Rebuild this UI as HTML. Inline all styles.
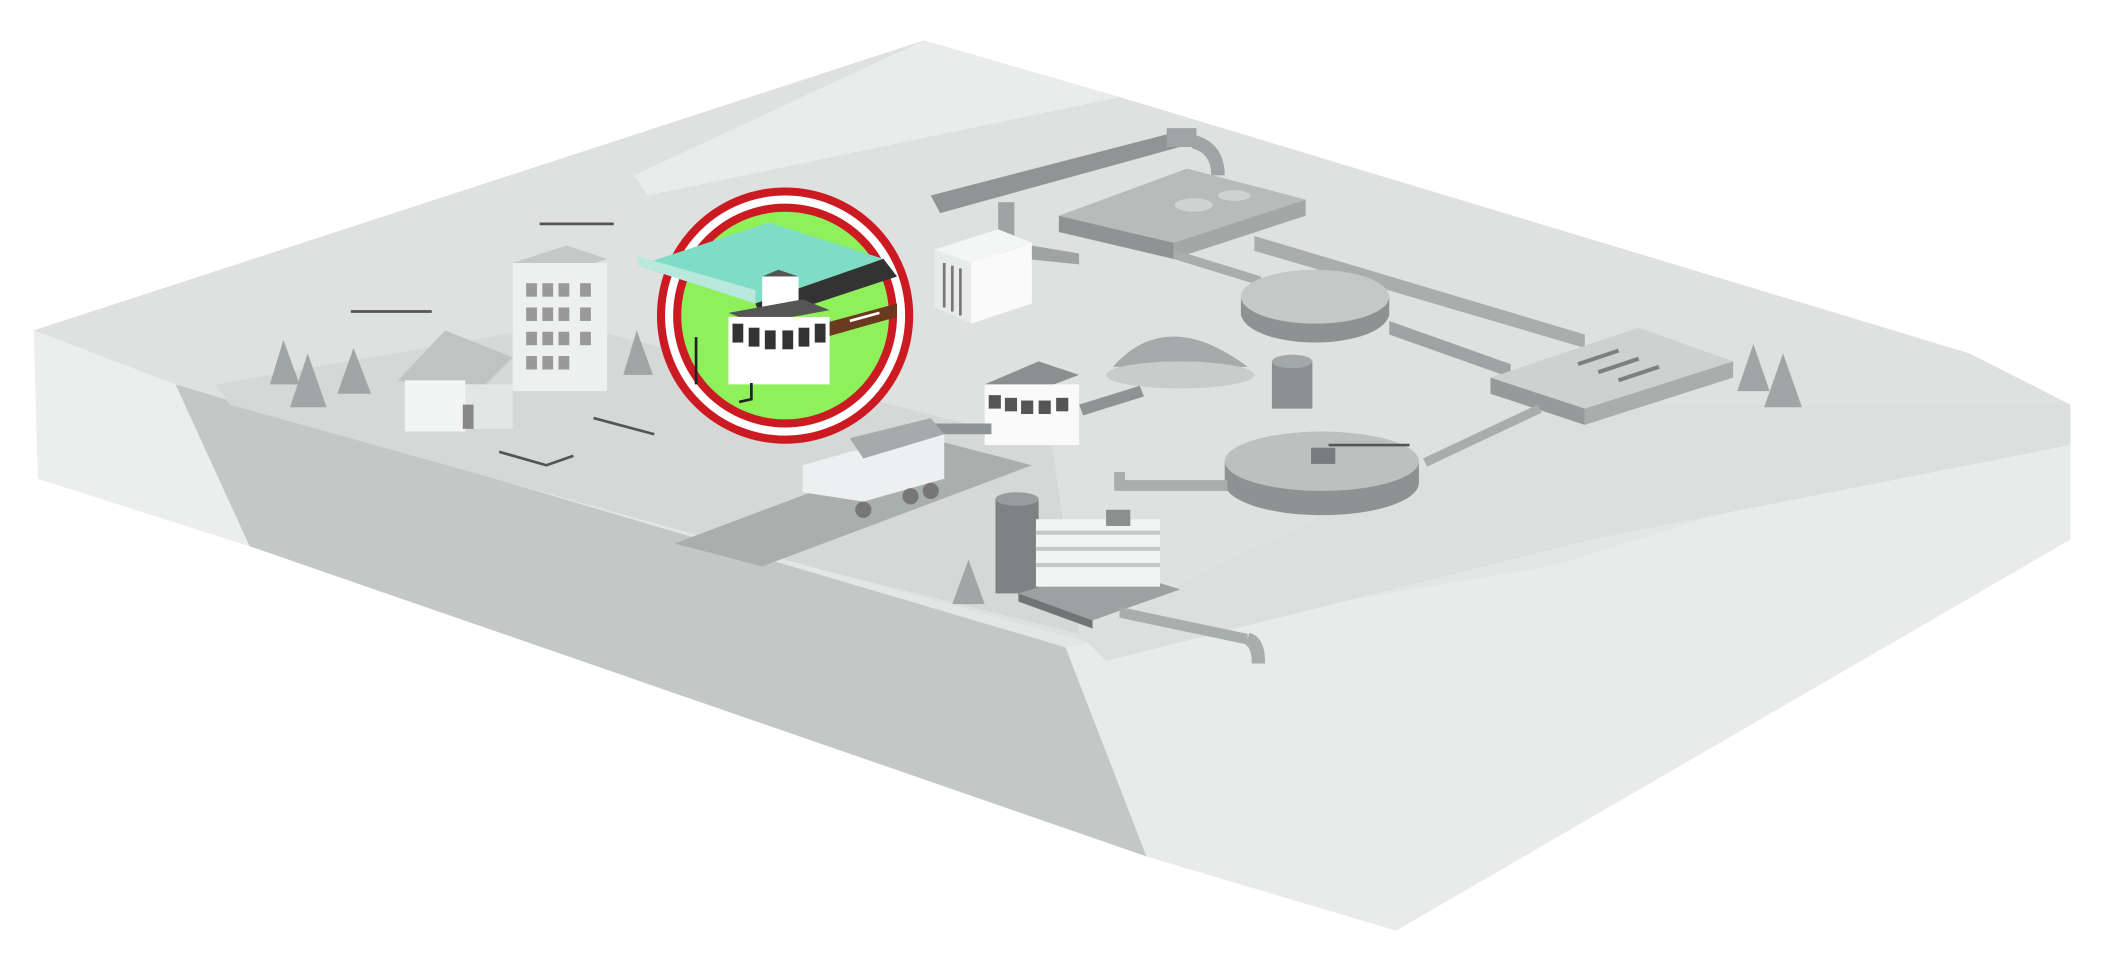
<!DOCTYPE html>
<html><head><meta charset="utf-8"><style>html,body{margin:0;padding:0;background:#fff}svg{display:block}</style></head><body>
<svg width="2115" height="971" viewBox="0 0 1568 720" xmlns="http://www.w3.org/2000/svg">
<!-- base -->
<polygon points="25,245 685,30 830,72 1460,262 1535,300 1535,400 1035,690 850,635 185,405 28,355" fill="#e4e6e5"/>
<polygon points="25,245 685,30 830,72 1460,262 1535,300 1150,360 820,480 600,420 130,285" fill="#dfe1e0"/>
<polygon points="25,245 130,285 185,405 28,355" fill="#eceeed"/>
<!-- front wall -->
<polygon points="130,285 790,480 850,635 185,405" fill="#c3c7c6"/>
<!-- right lower face -->
<polygon points="790,480 1150,420 1535,300 1535,400 1035,690 850,635" fill="#e9ebea"/>
<polygon points="1150,300 1535,300 1535,330 1180,400 820,490 800,470" fill="#dcdfde"/>
<!-- pit floor -->
<polygon points="160,285 420,240 780,330 800,470 600,420 170,300" fill="#d4d8d7"/>
<!-- road -->
<polygon points="500,403 700,328 765,345 565,420" fill="#a9afad"/>
<!-- top lighter bands -->
<polygon points="470,130 685,30 830,72 480,145" fill="#eaeceb"/>
<!-- pipes top -->
<polygon points="690,145 875,97 882,107 697,158" fill="#8f9594"/>
<rect x="865" y="95" width="22" height="14" fill="#9fa5a4"/>
<path d="M885,105 q18,5 18,25" stroke="#9fa5a4" stroke-width="10" fill="none"/>
<polygon points="785,160 880,125 968,148 870,180" fill="#b7bcbb"/>
<polygon points="785,160 870,180 870,192 785,172" fill="#8e9493"/>
<polygon points="870,180 968,148 968,160 870,192" fill="#a3a8a7"/>
<ellipse cx="885" cy="152" rx="14" ry="5" fill="#cfd3d2"/>
<ellipse cx="915" cy="145" rx="12" ry="4" fill="#cfd3d2"/>
<!-- conduit down to screen -->
<polygon points="740,150 752,150 752,180 800,188 800,196 740,190" fill="#9ea4a3"/>
<!-- screen building -->
<polygon points="693,185 740,170 765,180 720,195" fill="#f4f5f5"/>
<polygon points="693,185 720,195 720,240 693,228" fill="#e9ebea"/>
<polygon points="720,195 765,180 765,225 720,240" fill="#fafafa"/>
<g stroke="#777" stroke-width="2"><line x1="700" y1="195" x2="700" y2="228"/><line x1="706" y1="197" x2="706" y2="231"/><line x1="712" y1="199" x2="712" y2="234"/></g>
<!-- long pipe to right -->
<polygon points="930,175 1175,248 1175,258 930,186" fill="#a8aeac"/>
<polygon points="870,185 935,205 935,212 870,192" fill="#a8aeac"/>
<!-- clarifier 1 -->
<ellipse cx="975" cy="232" rx="55" ry="22" fill="#8d9392"/>
<rect x="920" y="220" width="110" height="14" fill="#8d9392"/>
<ellipse cx="975" cy="220" rx="55" ry="20" fill="#c4c8c7"/>
<polygon points="1030,238 1120,270 1120,280 1030,248" fill="#9ea4a3"/>
<!-- dome -->
<path d="M825,272 q40,-45 100,0 z" fill="#a5abaa"/>
<ellipse cx="875" cy="278" rx="55" ry="10" fill="#c8cccb"/>
<rect x="943" y="268" width="30" height="35" fill="#8a9090"/>
<ellipse cx="958" cy="268" rx="15" ry="5" fill="#a3a9a8"/>
<!-- aeration basin -->
<polygon points="1105,280 1215,243 1285,268 1175,303" fill="#cdd1d0"/>
<polygon points="1105,280 1175,303 1175,315 1105,292" fill="#959b9a"/>
<polygon points="1175,303 1285,268 1285,280 1175,315" fill="#a9aead"/>
<g stroke="#7b8180" stroke-width="3"><line x1="1170" y1="270" x2="1200" y2="260"/><line x1="1185" y1="276" x2="1215" y2="266"/><line x1="1200" y1="282" x2="1230" y2="272"/></g>
<!-- clarifier 2 -->
<polygon points="1140,300 1055,340 1058,346 1143,306" fill="#a8aeac"/>
<ellipse cx="980" cy="358" rx="72" ry="24" fill="#8d9392"/>
<rect x="908" y="342" width="144" height="16" fill="#8d9392"/>
<ellipse cx="980" cy="342" rx="72" ry="22" fill="#bcc1c0"/>
<rect x="972" y="332" width="18" height="12" fill="#777d7c"/>
<path d="M985,330 L1045,330" stroke="#555" stroke-width="2"/>
<path d="M910,360 L830,360 L830,350" stroke="#a8aeac" stroke-width="8" fill="none"/>
<!-- press -->
<rect x="738" y="370" width="32" height="70" fill="#7d8382"/>
<ellipse cx="754" cy="370" rx="16" ry="5" fill="#979d9c"/>
<polygon points="755,440 820,420 875,437 810,460" fill="#9ca2a1"/>
<polygon points="755,440 810,460 810,466 755,446" fill="#6f7574"/>
<rect x="768" y="385" width="92" height="50" fill="#f2f3f3"/>
<g stroke="#c4c8c7" stroke-width="3"><line x1="768" y1="395" x2="860" y2="395"/><line x1="768" y1="407" x2="860" y2="407"/><line x1="768" y1="419" x2="860" y2="419"/></g>
<rect x="820" y="378" width="18" height="12" fill="#8a9090"/>
<polygon points="830,450 925,470 925,478 830,458" fill="#a8aeac"/>
<path d="M925,474 q8,2 8,18" stroke="#a8aeac" stroke-width="10" fill="none"/>
<!-- control building -->
<polygon points="730,285 770,268 800,278 760,293" fill="#8a9090"/>
<rect x="730" y="285" width="70" height="45" fill="#fafafa"/>
<g fill="#555"><rect x="733" y="293" width="9" height="10"/><rect x="745" y="295" width="9" height="10"/><rect x="757" y="297" width="9" height="10"/><rect x="770" y="297" width="9" height="10"/><rect x="783" y="295" width="9" height="10"/></g>
<polygon points="800,300 845,286 848,294 803,308" fill="#8e9493"/>
<polygon points="680,314 735,314 735,322 680,322" fill="#8e9493"/>
<!-- truck -->
<polygon points="595,345 630,335 700,322 700,355 640,372 595,365" fill="#eeeff0"/>
<polygon points="630,325 690,310 700,322 640,340" fill="#a5abaa"/>
<circle cx="640" cy="378" r="6" fill="#777"/><circle cx="675" cy="368" r="6" fill="#777"/><circle cx="690" cy="364" r="6" fill="#777"/>
<!-- houses -->
<polygon points="380,195 420,182 450,192 410,205" fill="#c4c8c7"/>
<rect x="380" y="195" width="70" height="95" fill="#eef0ef"/>
<g fill="#999"><rect x="390" y="210" width="8" height="10"/><rect x="402" y="210" width="8" height="10"/><rect x="414" y="210" width="8" height="10"/><rect x="430" y="210" width="8" height="10"/><rect x="390" y="228" width="8" height="10"/><rect x="402" y="228" width="8" height="10"/><rect x="414" y="228" width="8" height="10"/><rect x="430" y="228" width="8" height="10"/><rect x="390" y="246" width="8" height="10"/><rect x="402" y="246" width="8" height="10"/><rect x="414" y="246" width="8" height="10"/><rect x="430" y="246" width="8" height="10"/><rect x="390" y="264" width="8" height="10"/><rect x="402" y="264" width="8" height="10"/><rect x="414" y="264" width="8" height="10"/></g>
<polygon points="295,282 330,245 380,265 345,300" fill="#bfc4c3"/>
<rect x="300" y="282" width="45" height="38" fill="#f3f4f4"/>
<rect x="345" y="285" width="35" height="33" fill="#e4e6e5"/>
<rect x="343" y="300" width="8" height="18" fill="#888"/>
<!-- arrows -->
<g stroke="#555" stroke-width="2" fill="none"><line x1="400" y1="166" x2="455" y2="166"/><line x1="260" y1="231" x2="320" y2="231"/><path d="M370,335 L405,345 L425,338"/><path d="M440,310 L485,322"/></g>
<!-- trees -->
<g fill="#a0a6a5"><polygon points="210,252 200,285 222,285"/><polygon points="228,262 215,302 242,302"/><polygon points="262,258 250,292 275,292"/><polygon points="472,245 462,278 484,278"/><polygon points="1300,255 1288,290 1312,290"/><polygon points="1322,262 1308,302 1336,302"/><polygon points="718,415 706,448 730,448"/></g>
<!-- highlight circle -->
<circle cx="582" cy="234" r="92" fill="#fff" stroke="#cc1a22" stroke-width="6"/>
<circle cx="582" cy="234" r="80" fill="#8ef05a" stroke="#cc1a22" stroke-width="6"/>
<polygon points="473,197 570,165 655,192 560,225" fill="#7fdcc6"/>
<polygon points="473,197 560,225 560,215 473,190" fill="#b9e8dd"/>
<polygon points="560,225 655,192 665,205 565,238" fill="#333"/>
<polygon points="610,240 665,225 665,235 612,250" fill="#6b3a1e"/>
<polygon points="565,205 577,200 592,205 580,210" fill="#555"/>
<rect x="565" y="205" width="27" height="27" fill="#fff"/>
<polygon points="540,232 595,222 615,230 560,240" fill="#555"/>
<rect x="540" y="235" width="75" height="50" fill="#fff"/>
<g fill="#333"><rect x="543" y="240" width="8" height="14"/><rect x="555" y="243" width="8" height="14"/><rect x="567" y="245" width="8" height="14"/><rect x="580" y="245" width="8" height="14"/><rect x="592" y="243" width="8" height="14"/><rect x="604" y="240" width="8" height="14"/></g>
<path d="M548,298 L557,296 L557,284" stroke="#222" stroke-width="2" fill="none"/>
<line x1="516" y1="250" x2="516" y2="285" stroke="#222" stroke-width="2"/>
<line x1="630" y1="238" x2="652" y2="232" stroke="#fff" stroke-width="2"/>
</svg>
</body></html>
